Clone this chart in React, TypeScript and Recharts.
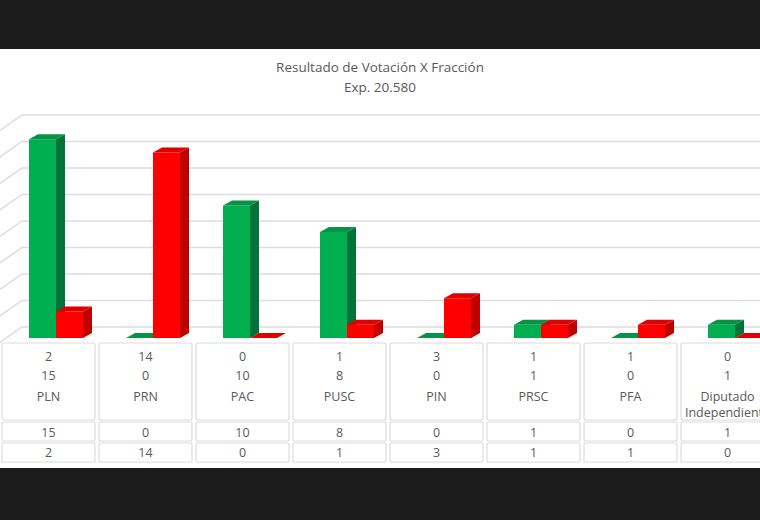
import React from 'react';
import { BarChart, Bar, XAxis, YAxis, CartesianGrid } from 'recharts';

const categories = ['PLN', 'PRN', 'PAC', 'PUSC', 'PIN', 'PRSC', 'PFA', 'Diputado Independiente'];
const aFavor = [15, 0, 10, 8, 0, 1, 0, 1];
const enContra = [2, 14, 0, 1, 3, 1, 1, 0];
const yTicks = [0, 2, 4, 6, 8, 10, 12, 14, 16];

const data = categories.map((name, i) => ({
  name,
  aFavor: aFavor[i],
  enContra: enContra[i],
}));

const FONT = '"Open Sans", "DejaVu Sans", sans-serif';
const TEXT = '#595959';
const GRID = '#dcdcdc';
const COL_W = 97;
// bars sit a few px right of the table columns (3D perspective)
const SHIFT = 7;
const DX = 9;
const DY = 5;
const WALL_X = 15;
const WALL_Y = 11;

const GREEN = { face: '#00b050', side: '#00733a', top: '#049444' };
const RED = { face: '#ff0000', side: '#c00000', top: '#e00000' };

function Box3D(props: any) {
  const { x, y, width, height, colors } = props;
  const w = width;
  const h = Math.max(height, 0);
  return (
    <g>
      {h > 0 && <rect x={x} y={y} width={w} height={h} fill={colors.face} />}
      <polygon
        points={`${x + w},${y} ${x + w + DX},${y - DY} ${x + w + DX},${y + h - DY} ${x + w},${y + h}`}
        fill={colors.side}
      />
      <polygon
        points={`${x},${y} ${x + DX},${y - DY} ${x + w + DX},${y - DY} ${x + w},${y}`}
        fill={colors.top}
      />
    </g>
  );
}

function TableTick(props: any) {
  const { x, y, payload } = props;
  const i = categories.indexOf(payload.value);
  const cx = x - SHIFT;
  const left = cx - COL_W / 2 + 2;
  const w = COL_W - 4;
  const words = String(payload.value).split(' ');
  const txt = {
    fill: TEXT,
    fontFamily: FONT,
    fontSize: 12.5,
    textAnchor: 'middle' as const,
    dominantBaseline: 'central' as const,
  };
  return (
    <g>
      <rect x={left} y={y + 5} width={w} height={77} rx={2} fill="#fff" stroke={GRID} strokeWidth={1.2} />
      <rect x={left} y={y + 84} width={w} height={19} rx={1} fill="#fff" stroke={GRID} strokeWidth={1.2} />
      <rect x={left} y={y + 105} width={w} height={19} rx={1} fill="#fff" stroke={GRID} strokeWidth={1.2} />
      <text x={cx} y={y + 18} {...txt}>{enContra[i]}</text>
      <text x={cx} y={y + 37} {...txt}>{aFavor[i]}</text>
      {words.map((wd, k) => (
        <text key={k} x={cx} y={y + 58 + k * 16} {...txt}>{wd}</text>
      ))}
      <text x={cx} y={y + 94} {...txt}>{aFavor[i]}</text>
      <text x={cx} y={y + 114} {...txt}>{enContra[i]}</text>
    </g>
  );
}

function WallLine(props: any) {
  const { x1, x2, y1 } = props;
  return (
    <polyline
      points={`${x1 - 8},${y1 + 5} ${x1 + WALL_X},${y1 - WALL_Y} ${x2 + 20},${y1 - WALL_Y}`}
      fill="none"
      stroke={GRID}
      strokeWidth={1.5}
    />
  );
}

export default function App() {
  return (
    <div
      style={{
        position: 'absolute',
        left: 0,
        top: 0,
        width: 760,
        height: 520,
        overflow: 'hidden',
        background: '#1b1b1b',
      }}
    >
      <div
        style={{
          position: 'absolute',
          left: 0,
          top: 49,
          width: 760,
          height: 419,
          background: '#ffffff',
          overflow: 'hidden',
        }}
      >
        <div
          style={{
            position: 'absolute',
            left: 0,
            top: 8,
            width: 760,
            textAlign: 'center',
            fontFamily: FONT,
            fontSize: 13.5,
            lineHeight: '20px',
            color: TEXT,
          }}
        >
          <div>Resultado de Votación X Fracción</div>
          <div>Exp. 20.580</div>
        </div>
        <div style={{ position: 'absolute', left: 0, top: 0 }}>
          <BarChart
            width={783}
            height={419}
            data={data}
            barGap={0}
            barSize={27}
            margin={{ top: 77, right: 0, bottom: 0, left: 7 }}
          >
            <CartesianGrid vertical={false} horizontal={(p: any) => <WallLine {...p} />} />
            <XAxis
              dataKey="name"
              axisLine={false}
              tickLine={false}
              tickSize={0}
              tickMargin={0}
              height={130}
              interval={0}
              tick={<TableTick />}
            />
            <YAxis hide domain={[0, 16]} ticks={yTicks} />
            <Bar
              dataKey="aFavor"
              fill={GREEN.face}
              isAnimationActive={false}
              shape={(p: any) => <Box3D {...p} colors={GREEN} />}
            />
            <Bar
              dataKey="enContra"
              fill={RED.face}
              isAnimationActive={false}
              shape={(p: any) => <Box3D {...p} colors={RED} />}
            />
          </BarChart>
        </div>
      </div>
    </div>
  );
}
